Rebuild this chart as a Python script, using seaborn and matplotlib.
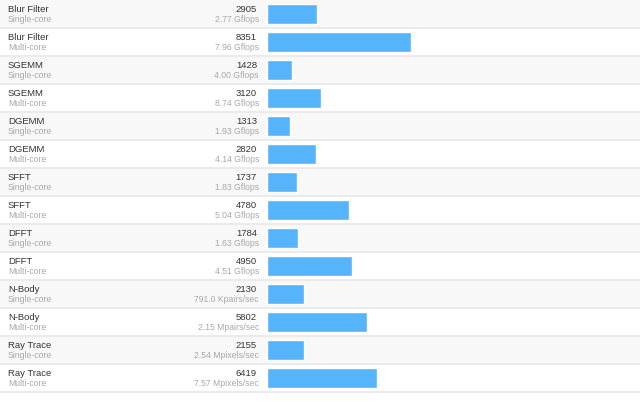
import matplotlib
matplotlib.use("Agg")
import matplotlib.pyplot as plt
import matplotlib.transforms as mtransforms
import pandas as pd
import seaborn as sns

# benchmark data
tests = ["Blur Filter", "Blur Filter", "SGEMM", "SGEMM", "DGEMM", "DGEMM",
         "SFFT", "SFFT", "DFFT", "DFFT", "N-Body", "N-Body", "Ray Trace", "Ray Trace"]
modes = ["Single-core", "Multi-core"] * 7
scores = [2905, 8351, 1428, 3120, 1313, 2820, 1737, 4780, 1784, 4950, 2130, 5802, 2155, 6419]
rates = ["2.77 Gflops", "7.96 Gflops", "4.00 Gflops", "8.74 Gflops", "1.93 Gflops",
         "4.14 Gflops", "1.83 Gflops", "5.04 Gflops", "1.63 Gflops", "4.51 Gflops",
         "791.0 Kpairs/sec", "2.15 Mpairs/sec", "2.54 Mpixels/sec", "7.57 Mpixels/sec"]

df = pd.DataFrame({"test": tests, "mode": modes, "score": scores, "rate": rates})
df["row"] = df["test"] + " " + df["mode"]

sns.set_theme(style="white")
plt.rcParams["font.family"] = ["Liberation Sans", "DejaVu Sans"]

W, H = 640, 404
ROW = 28
fig = plt.figure(figsize=(W / 100, H / 100), dpi=100)
ax = fig.add_axes([0, 0, 1, 1])

# alternating row stripes and separators
n = len(df)
for i in range(n):
    if i % 2 == 0:
        ax.axhspan(i - 0.5, i + 0.5, color="#f8f8f8", lw=0, zorder=0)
    ax.axhline(i + 0.5, color="#ebebeb", lw=1.5, zorder=1)

sns.barplot(data=df, x="score", y="row", order=df["row"], orient="h",
            color="#55b4fb", saturation=1, width=20 / ROW, ax=ax, zorder=2)

px = 0.0172  # pixels per score point
bar_x0 = 267
ax.set_xlim(-bar_x0 / px, (W - bar_x0) / px)
ax.set_ylim(H / ROW - 0.5, -0.5)
ax.axis("off")

trans = mtransforms.blended_transform_factory(fig.transFigure, ax.transData)
for i, r in df.iterrows():
    y_top = i - 0.5
    ax.text(8 / W, y_top + 9.5 / ROW, r["test"], transform=trans, ha="left", va="center",
            fontsize=6.8, color="#333333")
    ax.text(8 / W, y_top + 19.5 / ROW, r["mode"], transform=trans, ha="left", va="center",
            fontsize=6.2, color="#a8a8a8")
    ax.text(257 / W, y_top + 9.5 / ROW, f"{r['score']}", transform=trans, ha="right",
            va="center", fontsize=6.8, color="#333333")
    ax.text(259 / W, y_top + 19.5 / ROW, r["rate"], transform=trans, ha="right",
            va="center", fontsize=6.2, color="#a8a8a8")

fig.savefig("out.png", dpi=100)
